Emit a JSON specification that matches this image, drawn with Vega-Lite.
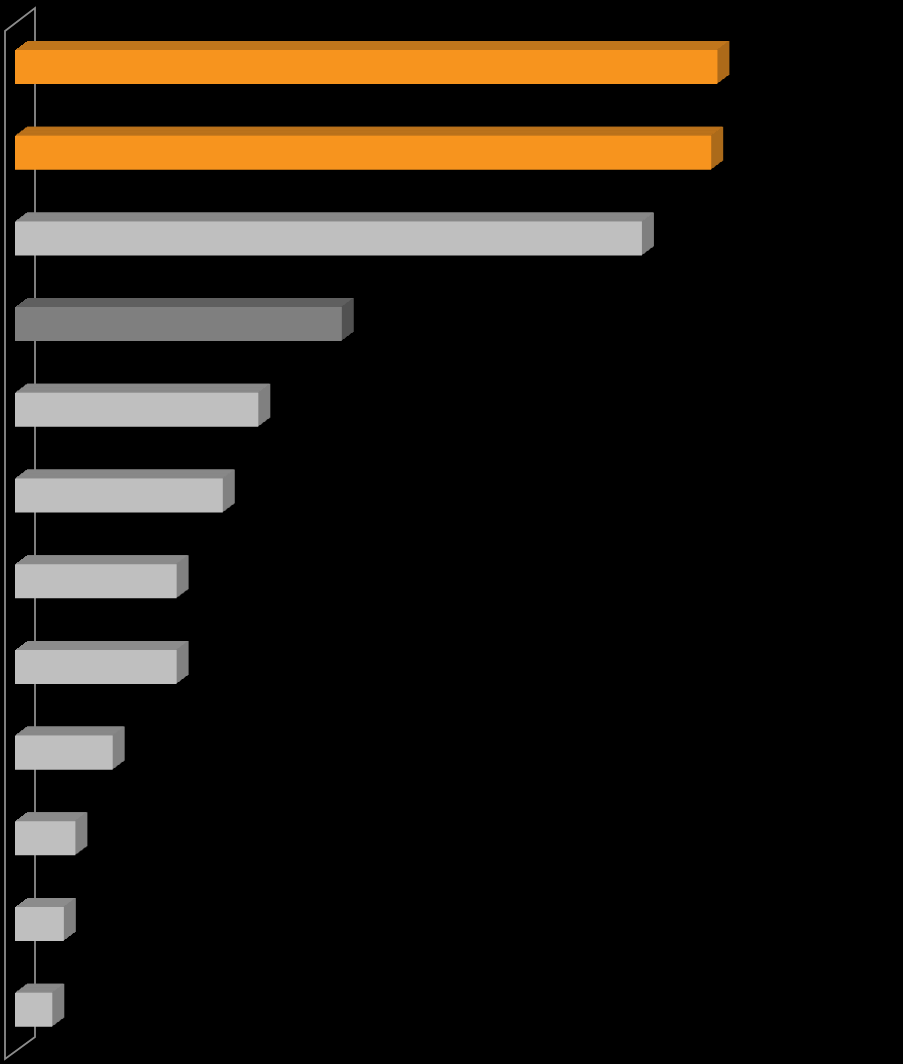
{
  "$schema": "https://vega.github.io/schema/vega-lite/v6.json",
  "width": 888,
  "height": 1064,
  "autosize": {"type": "none"},
  "padding": {"left": 15, "top": 0, "right": 0, "bottom": 0},
  "background": "black",
  "config": {"view": {"stroke": null}},
  "data": {"values": [
    {"category": "A", "value": 79.1},
    {"category": "B", "value": 78.4},
    {"category": "C", "value": 70.6},
    {"category": "D", "value": 36.8},
    {"category": "E", "value": 27.4},
    {"category": "F", "value": 23.4},
    {"category": "G", "value": 18.2},
    {"category": "H", "value": 18.2},
    {"category": "I", "value": 11.0},
    {"category": "J", "value": 6.8},
    {"category": "K", "value": 5.5},
    {"category": "L", "value": 4.2}
  ]},
  "encoding": {
    "y": {"field": "category", "type": "nominal", "sort": null, "axis": null, "scale": {"paddingInner": 0.603, "paddingOuter": 0.509, "align": 0.573}},
    "x": {"field": "value", "type": "quantitative", "axis": null, "stack": null, "scale": {"domain": [0, 100]}},
    "x2": {"datum": 0}
  },
  "resolve": {"scale": {"fill": "independent"}},
  "layer": [
    {"transform": [{"filter": "datum.category == 'A'"}], "mark": {"type": "point", "shape": "M-10,-36L20,-59L20,970L-10,992Z", "size": 4, "filled": false, "opacity": 1, "stroke": "#8c8c8c", "strokeWidth": 1.8}, "encoding": {"x": {"datum": 0, "type": "quantitative"}}},
    {"mark": {"type": "bar", "xOffset": 12, "x2Offset": 12, "yOffset": -9, "y2Offset": -9}, "encoding": {"fill": {"field": "category", "type": "nominal", "legend": null, "scale": {"domain": ["A","B","C","D","E","F","G","H","I","J","K","L"], "range": ["#A8681A","#A8681A","#7f7f7f","#4f4f4f","#7f7f7f","#7f7f7f","#7f7f7f","#7f7f7f","#7f7f7f","#7f7f7f","#7f7f7f","#7f7f7f"]}}}},
    {"mark": {"type": "bar", "xOffset": 11, "x2Offset": 12, "yOffset": -9, "y2Offset": -9}, "encoding": {"fill": {"field": "category", "type": "nominal", "legend": null, "scale": {"domain": ["A","B","C","D","E","F","G","H","I","J","K","L"], "range": ["#C0761C","#C0761C","#8c8c8c","#5f5f5f","#8c8c8c","#8c8c8c","#8c8c8c","#8c8c8c","#8c8c8c","#8c8c8c","#8c8c8c","#8c8c8c"]}}}},
    {"mark": {"type": "bar", "xOffset": 11, "x2Offset": 11, "yOffset": -8, "y2Offset": -8}, "encoding": {"fill": {"field": "category", "type": "nominal", "legend": null, "scale": {"domain": ["A","B","C","D","E","F","G","H","I","J","K","L"], "range": ["#A8681A","#A8681A","#7f7f7f","#4f4f4f","#7f7f7f","#7f7f7f","#7f7f7f","#7f7f7f","#7f7f7f","#7f7f7f","#7f7f7f","#7f7f7f"]}}}},
    {"mark": {"type": "bar", "xOffset": 10, "x2Offset": 11, "yOffset": -8, "y2Offset": -8}, "encoding": {"fill": {"field": "category", "type": "nominal", "legend": null, "scale": {"domain": ["A","B","C","D","E","F","G","H","I","J","K","L"], "range": ["#C0761C","#C0761C","#8c8c8c","#5f5f5f","#8c8c8c","#8c8c8c","#8c8c8c","#8c8c8c","#8c8c8c","#8c8c8c","#8c8c8c","#8c8c8c"]}}}},
    {"mark": {"type": "bar", "xOffset": 10, "x2Offset": 10, "yOffset": -8, "y2Offset": -8}, "encoding": {"fill": {"field": "category", "type": "nominal", "legend": null, "scale": {"domain": ["A","B","C","D","E","F","G","H","I","J","K","L"], "range": ["#A8681A","#A8681A","#7f7f7f","#4f4f4f","#7f7f7f","#7f7f7f","#7f7f7f","#7f7f7f","#7f7f7f","#7f7f7f","#7f7f7f","#7f7f7f"]}}}},
    {"mark": {"type": "bar", "xOffset": 9, "x2Offset": 10, "yOffset": -8, "y2Offset": -8}, "encoding": {"fill": {"field": "category", "type": "nominal", "legend": null, "scale": {"domain": ["A","B","C","D","E","F","G","H","I","J","K","L"], "range": ["#C0761C","#C0761C","#8c8c8c","#5f5f5f","#8c8c8c","#8c8c8c","#8c8c8c","#8c8c8c","#8c8c8c","#8c8c8c","#8c8c8c","#8c8c8c"]}}}},
    {"mark": {"type": "bar", "xOffset": 9, "x2Offset": 9, "yOffset": -7, "y2Offset": -7}, "encoding": {"fill": {"field": "category", "type": "nominal", "legend": null, "scale": {"domain": ["A","B","C","D","E","F","G","H","I","J","K","L"], "range": ["#A8681A","#A8681A","#7f7f7f","#4f4f4f","#7f7f7f","#7f7f7f","#7f7f7f","#7f7f7f","#7f7f7f","#7f7f7f","#7f7f7f","#7f7f7f"]}}}},
    {"mark": {"type": "bar", "xOffset": 8, "x2Offset": 9, "yOffset": -7, "y2Offset": -7}, "encoding": {"fill": {"field": "category", "type": "nominal", "legend": null, "scale": {"domain": ["A","B","C","D","E","F","G","H","I","J","K","L"], "range": ["#C0761C","#C0761C","#8c8c8c","#5f5f5f","#8c8c8c","#8c8c8c","#8c8c8c","#8c8c8c","#8c8c8c","#8c8c8c","#8c8c8c","#8c8c8c"]}}}},
    {"mark": {"type": "bar", "xOffset": 8, "x2Offset": 8, "yOffset": -6, "y2Offset": -6}, "encoding": {"fill": {"field": "category", "type": "nominal", "legend": null, "scale": {"domain": ["A","B","C","D","E","F","G","H","I","J","K","L"], "range": ["#A8681A","#A8681A","#7f7f7f","#4f4f4f","#7f7f7f","#7f7f7f","#7f7f7f","#7f7f7f","#7f7f7f","#7f7f7f","#7f7f7f","#7f7f7f"]}}}},
    {"mark": {"type": "bar", "xOffset": 7, "x2Offset": 8, "yOffset": -6, "y2Offset": -6}, "encoding": {"fill": {"field": "category", "type": "nominal", "legend": null, "scale": {"domain": ["A","B","C","D","E","F","G","H","I","J","K","L"], "range": ["#C0761C","#C0761C","#8c8c8c","#5f5f5f","#8c8c8c","#8c8c8c","#8c8c8c","#8c8c8c","#8c8c8c","#8c8c8c","#8c8c8c","#8c8c8c"]}}}},
    {"mark": {"type": "bar", "xOffset": 7, "x2Offset": 7, "yOffset": -5, "y2Offset": -5}, "encoding": {"fill": {"field": "category", "type": "nominal", "legend": null, "scale": {"domain": ["A","B","C","D","E","F","G","H","I","J","K","L"], "range": ["#A8681A","#A8681A","#7f7f7f","#4f4f4f","#7f7f7f","#7f7f7f","#7f7f7f","#7f7f7f","#7f7f7f","#7f7f7f","#7f7f7f","#7f7f7f"]}}}},
    {"mark": {"type": "bar", "xOffset": 6, "x2Offset": 7, "yOffset": -5, "y2Offset": -5}, "encoding": {"fill": {"field": "category", "type": "nominal", "legend": null, "scale": {"domain": ["A","B","C","D","E","F","G","H","I","J","K","L"], "range": ["#C0761C","#C0761C","#8c8c8c","#5f5f5f","#8c8c8c","#8c8c8c","#8c8c8c","#8c8c8c","#8c8c8c","#8c8c8c","#8c8c8c","#8c8c8c"]}}}},
    {"mark": {"type": "bar", "xOffset": 6, "x2Offset": 6, "yOffset": -5, "y2Offset": -5}, "encoding": {"fill": {"field": "category", "type": "nominal", "legend": null, "scale": {"domain": ["A","B","C","D","E","F","G","H","I","J","K","L"], "range": ["#A8681A","#A8681A","#7f7f7f","#4f4f4f","#7f7f7f","#7f7f7f","#7f7f7f","#7f7f7f","#7f7f7f","#7f7f7f","#7f7f7f","#7f7f7f"]}}}},
    {"mark": {"type": "bar", "xOffset": 5, "x2Offset": 6, "yOffset": -5, "y2Offset": -5}, "encoding": {"fill": {"field": "category", "type": "nominal", "legend": null, "scale": {"domain": ["A","B","C","D","E","F","G","H","I","J","K","L"], "range": ["#C0761C","#C0761C","#8c8c8c","#5f5f5f","#8c8c8c","#8c8c8c","#8c8c8c","#8c8c8c","#8c8c8c","#8c8c8c","#8c8c8c","#8c8c8c"]}}}},
    {"mark": {"type": "bar", "xOffset": 5, "x2Offset": 5, "yOffset": -4, "y2Offset": -4}, "encoding": {"fill": {"field": "category", "type": "nominal", "legend": null, "scale": {"domain": ["A","B","C","D","E","F","G","H","I","J","K","L"], "range": ["#A8681A","#A8681A","#7f7f7f","#4f4f4f","#7f7f7f","#7f7f7f","#7f7f7f","#7f7f7f","#7f7f7f","#7f7f7f","#7f7f7f","#7f7f7f"]}}}},
    {"mark": {"type": "bar", "xOffset": 4, "x2Offset": 5, "yOffset": -4, "y2Offset": -4}, "encoding": {"fill": {"field": "category", "type": "nominal", "legend": null, "scale": {"domain": ["A","B","C","D","E","F","G","H","I","J","K","L"], "range": ["#C0761C","#C0761C","#8c8c8c","#5f5f5f","#8c8c8c","#8c8c8c","#8c8c8c","#8c8c8c","#8c8c8c","#8c8c8c","#8c8c8c","#8c8c8c"]}}}},
    {"mark": {"type": "bar", "xOffset": 4, "x2Offset": 4, "yOffset": -3, "y2Offset": -3}, "encoding": {"fill": {"field": "category", "type": "nominal", "legend": null, "scale": {"domain": ["A","B","C","D","E","F","G","H","I","J","K","L"], "range": ["#A8681A","#A8681A","#7f7f7f","#4f4f4f","#7f7f7f","#7f7f7f","#7f7f7f","#7f7f7f","#7f7f7f","#7f7f7f","#7f7f7f","#7f7f7f"]}}}},
    {"mark": {"type": "bar", "xOffset": 3, "x2Offset": 4, "yOffset": -3, "y2Offset": -3}, "encoding": {"fill": {"field": "category", "type": "nominal", "legend": null, "scale": {"domain": ["A","B","C","D","E","F","G","H","I","J","K","L"], "range": ["#C0761C","#C0761C","#8c8c8c","#5f5f5f","#8c8c8c","#8c8c8c","#8c8c8c","#8c8c8c","#8c8c8c","#8c8c8c","#8c8c8c","#8c8c8c"]}}}},
    {"mark": {"type": "bar", "xOffset": 3, "x2Offset": 3, "yOffset": -2, "y2Offset": -2}, "encoding": {"fill": {"field": "category", "type": "nominal", "legend": null, "scale": {"domain": ["A","B","C","D","E","F","G","H","I","J","K","L"], "range": ["#A8681A","#A8681A","#7f7f7f","#4f4f4f","#7f7f7f","#7f7f7f","#7f7f7f","#7f7f7f","#7f7f7f","#7f7f7f","#7f7f7f","#7f7f7f"]}}}},
    {"mark": {"type": "bar", "xOffset": 2, "x2Offset": 3, "yOffset": -2, "y2Offset": -2}, "encoding": {"fill": {"field": "category", "type": "nominal", "legend": null, "scale": {"domain": ["A","B","C","D","E","F","G","H","I","J","K","L"], "range": ["#C0761C","#C0761C","#8c8c8c","#5f5f5f","#8c8c8c","#8c8c8c","#8c8c8c","#8c8c8c","#8c8c8c","#8c8c8c","#8c8c8c","#8c8c8c"]}}}},
    {"mark": {"type": "bar", "xOffset": 2, "x2Offset": 2, "yOffset": -2, "y2Offset": -2}, "encoding": {"fill": {"field": "category", "type": "nominal", "legend": null, "scale": {"domain": ["A","B","C","D","E","F","G","H","I","J","K","L"], "range": ["#A8681A","#A8681A","#7f7f7f","#4f4f4f","#7f7f7f","#7f7f7f","#7f7f7f","#7f7f7f","#7f7f7f","#7f7f7f","#7f7f7f","#7f7f7f"]}}}},
    {"mark": {"type": "bar", "xOffset": 1, "x2Offset": 2, "yOffset": -2, "y2Offset": -2}, "encoding": {"fill": {"field": "category", "type": "nominal", "legend": null, "scale": {"domain": ["A","B","C","D","E","F","G","H","I","J","K","L"], "range": ["#C0761C","#C0761C","#8c8c8c","#5f5f5f","#8c8c8c","#8c8c8c","#8c8c8c","#8c8c8c","#8c8c8c","#8c8c8c","#8c8c8c","#8c8c8c"]}}}},
    {"mark": {"type": "bar", "xOffset": 1, "x2Offset": 1, "yOffset": -1, "y2Offset": -1}, "encoding": {"fill": {"field": "category", "type": "nominal", "legend": null, "scale": {"domain": ["A","B","C","D","E","F","G","H","I","J","K","L"], "range": ["#A8681A","#A8681A","#7f7f7f","#4f4f4f","#7f7f7f","#7f7f7f","#7f7f7f","#7f7f7f","#7f7f7f","#7f7f7f","#7f7f7f","#7f7f7f"]}}}},
    {"mark": {"type": "bar", "xOffset": 0, "x2Offset": 1, "yOffset": -1, "y2Offset": -1}, "encoding": {"fill": {"field": "category", "type": "nominal", "legend": null, "scale": {"domain": ["A","B","C","D","E","F","G","H","I","J","K","L"], "range": ["#C0761C","#C0761C","#8c8c8c","#5f5f5f","#8c8c8c","#8c8c8c","#8c8c8c","#8c8c8c","#8c8c8c","#8c8c8c","#8c8c8c","#8c8c8c"]}}}},
    {"mark": {"type": "bar"}, "encoding": {"fill": {"field": "category", "type": "nominal", "legend": null, "scale": {"domain": ["A","B","C","D","E","F","G","H","I","J","K","L"], "range": ["#F7941E","#F7941E","#bfbfbf","#7f7f7f","#bfbfbf","#bfbfbf","#bfbfbf","#bfbfbf","#bfbfbf","#bfbfbf","#bfbfbf","#bfbfbf"]}}}}
  ]
}
